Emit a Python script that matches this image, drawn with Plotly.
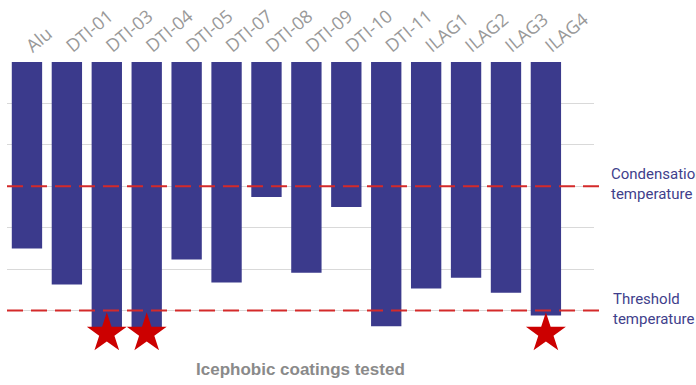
import plotly.graph_objects as go

categories = ["Alu", "DTI-01", "DTI-03", "DTI-04", "DTI-05", "DTI-07", "DTI-08",
              "DTI-09", "DTI-10", "DTI-11", "ILAG1", "ILAG2", "ILAG3", "ILAG4"]
# bar depth (in gridline units, measured downward from the top)
values = [4.50, 5.37, 6.46, 6.46, 4.77, 5.32, 3.26, 5.09, 3.50, 6.38, 5.47, 5.21, 5.57, 6.12]
star_categories = ["DTI-03", "DTI-04", "ILAG4"]
star_level = 6.55
condensation_level = 3.0
threshold_level = 6.0

bar_color = "#3b3a8c"
red = "#cc0000"
text_blue = "#3f3f8c"

fig = go.Figure()
fig.add_trace(go.Bar(x=categories, y=values, marker=dict(color=bar_color, line=dict(width=0)),
                     hoverinfo="skip"))
fig.add_trace(go.Scatter(x=star_categories, y=[star_level] * len(star_categories), mode="markers",
                         marker=dict(symbol="star", size=30, color=red,
                                     line=dict(width=0)), hoverinfo="skip", cliponaxis=False))

for lvl in (condensation_level, threshold_level):
    fig.add_shape(type="line", xref="paper", yref="y", x0=0, x1=1.017, y0=lvl, y1=lvl,
                  line=dict(color="#d42a2a", width=2, dash="16px,8px"), layer="above")

fig.add_annotation(text="Condensation<br>temperature", xref="paper", yref="y", x=1.025,
                   y=2.94, xanchor="left", yanchor="middle", showarrow=False, align="left",
                   font=dict(family="Roboto", size=15, color=text_blue))
fig.add_annotation(text="Threshold<br>temperature", xref="paper", yref="y", x=1.029,
                   y=5.96, xanchor="left", yanchor="middle", showarrow=False, align="left",
                   font=dict(family="Roboto", size=15, color=text_blue))
fig.add_annotation(text="<b>Icephobic coatings tested</b>", xref="paper", yref="paper",
                   x=0.5, y=-0.02, xanchor="center", yanchor="top", showarrow=False,
                   font=dict(family="Liberation Sans, Arial", size=17, color="#8a8a8a"))

fig.update_layout(
    width=696, height=385,
    margin=dict(l=7, r=102, t=62, b=33, autoexpand=False),
    paper_bgcolor="white", plot_bgcolor="white",
    showlegend=False, bargap=0.24,
    xaxis=dict(side="top", tickangle=-40, showgrid=False, zeroline=False, showline=False,
               ticks="", automargin=False, ticklabelstandoff=2,
               tickfont=dict(family="Open Sans", size=18, color="#999999")),
    yaxis=dict(range=[7, 0], dtick=1, showgrid=True, gridcolor="#d9d9d9", gridwidth=1,
               zeroline=False, showticklabels=False, showline=False, ticks="",
               automargin=False),
)

fig.write_html("out.html", config={"displayModeBar": False},
               post_script="document.body.style.margin='0';document.body.style.overflow='hidden';")
